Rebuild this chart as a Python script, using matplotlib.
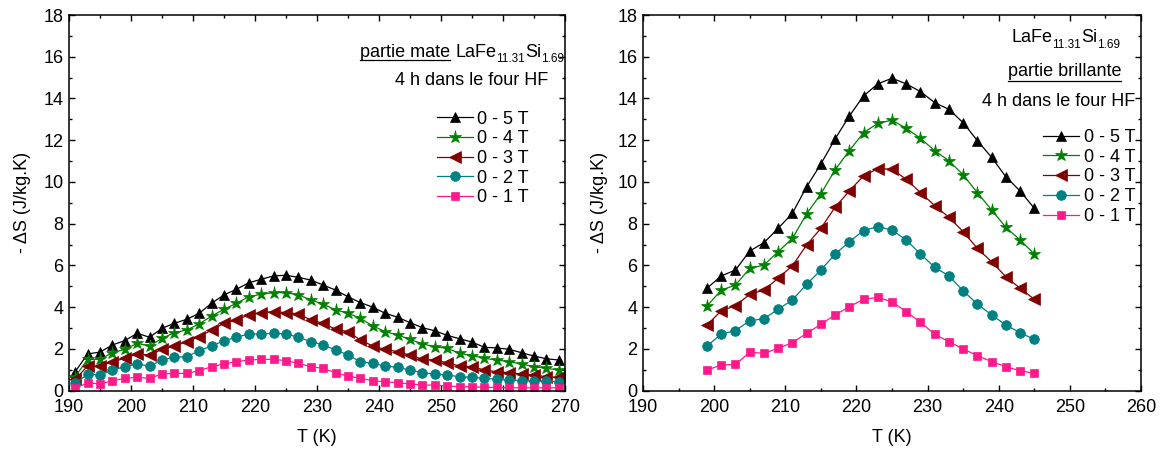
import matplotlib
matplotlib.use("Agg")
import matplotlib.pyplot as plt
from matplotlib.lines import Line2D
from matplotlib.ticker import MultipleLocator

plt.rcParams['font.family'] = ['Liberation Sans', 'DejaVu Sans']

# ---------------- data ----------------
T_mate = list(range(191, 270, 2))
mate_5T = [0.91, 1.76, 1.85, 2.19, 2.40, 2.75, 2.56, 2.99, 3.23, 3.42, 3.71, 4.19, 4.59, 4.86,
           5.17, 5.34, 5.50, 5.53, 5.43, 5.30, 5.06, 4.82, 4.50, 4.22, 4.00, 3.71, 3.52, 3.26,
           3.02, 2.87, 2.65, 2.49, 2.33, 2.08, 2.05, 1.98, 1.82, 1.66, 1.53, 1.47]
mate_4T = [0.67, 1.50, 1.50, 1.82, 1.98, 2.27, 2.14, 2.51, 2.78, 2.91, 3.20, 3.58, 3.90, 4.19,
           4.50, 4.62, 4.70, 4.70, 4.59, 4.35, 4.15, 3.87, 3.71, 3.47, 3.10, 2.83, 2.67, 2.46,
           2.24, 2.11, 2.03, 1.79, 1.68, 1.55, 1.47, 1.39, 1.28, 1.15, 1.07, 0.99]
mate_3T = [0.55, 1.18, 1.18, 1.39, 1.55, 1.76, 1.71, 1.98, 2.14, 2.35, 2.59, 2.91, 3.23, 3.39,
           3.63, 3.74, 3.79, 3.74, 3.68, 3.39, 3.23, 2.94, 2.83, 2.43, 2.14, 1.98, 1.87, 1.71,
           1.50, 1.47, 1.34, 1.18, 1.15, 0.99, 0.91, 0.86, 0.80, 0.75, 0.67, 0.64]
mate_2T = [0.35, 0.79, 0.75, 0.99, 1.15, 1.28, 1.18, 1.47, 1.60, 1.63, 1.92, 2.14, 2.40, 2.56,
           2.72, 2.72, 2.75, 2.72, 2.56, 2.35, 2.19, 1.95, 1.71, 1.39, 1.31, 1.18, 1.12, 0.99,
           0.86, 0.80, 0.75, 0.67, 0.64, 0.59, 0.55, 0.51, 0.48, 0.46, 0.45, 0.43]
mate_1T = [0.11, 0.38, 0.32, 0.48, 0.59, 0.64, 0.59, 0.80, 0.83, 0.83, 0.96, 1.15, 1.28, 1.39,
           1.47, 1.50, 1.50, 1.44, 1.31, 1.15, 1.07, 0.86, 0.70, 0.59, 0.48, 0.43, 0.38, 0.32,
           0.27, 0.27, 0.23, 0.19, 0.19, 0.16, 0.16, 0.14, 0.14, 0.14, 0.14, 0.14]

T_brill = list(range(199, 246, 2))
brill_5T = [4.91, 5.50, 5.78, 6.69, 7.09, 7.78, 8.50, 9.77, 10.86, 12.06, 13.16, 14.12,
            14.70, 14.97, 14.70, 14.33, 13.80, 13.48, 12.84, 11.98, 11.18, 10.25, 9.57, 8.74]
brill_4T = [4.06, 4.82, 5.06, 5.86, 6.02, 6.66, 7.30, 8.47, 9.43, 10.58, 11.50, 12.36,
            12.81, 12.96, 12.57, 12.09, 11.50, 11.02, 10.34, 9.49, 8.66, 7.83, 7.22, 6.55]
brill_3T = [3.15, 3.83, 4.07, 4.62, 4.82, 5.39, 5.99, 6.98, 7.78, 8.79, 9.57, 10.29,
            10.64, 10.61, 10.13, 9.49, 8.87, 8.31, 7.62, 6.82, 6.18, 5.46, 4.91, 4.38]
brill_2T = [2.14, 2.72, 2.88, 3.35, 3.45, 3.90, 4.35, 5.10, 5.78, 6.54, 7.14, 7.67,
            7.86, 7.70, 7.22, 6.55, 5.91, 5.50, 4.79, 4.15, 3.63, 3.15, 2.78, 2.46]
brill_1T = [0.99, 1.23, 1.26, 1.84, 1.79, 2.03, 2.30, 2.75, 3.18, 3.63, 4.02, 4.38,
            4.47, 4.26, 3.79, 3.28, 2.70, 2.35, 2.00, 1.68, 1.39, 1.15, 0.96, 0.83]

labels = ['0 - 5 T', '0 - 4 T', '0 - 3 T', '0 - 2 T', '0 - 1 T']
colors = ['black', '#008000', '#800000', '#008080', '#FF1A8C']
markers = ['^', '*', '<', 'o', 's']
msizes = [7.5, 9.5, 8, 7, 6]

W, H = 1163, 450
fig = plt.figure(figsize=(W / 100, H / 100), dpi=100)


def fx(x):
    return x / W


def fy(y):
    return 1 - y / H


axL = fig.add_axes([fx(69), fy(390.7), fx(565) - fx(69), fy(15) - fy(390.7)])
axR = fig.add_axes([fx(643), fy(390.7), fx(1141) - fx(643), fy(15) - fy(390.7)])

FS = 13
SUB = 8.5

for ax, T, series, xmax in [
    (axL, T_mate, [mate_5T, mate_4T, mate_3T, mate_2T, mate_1T], 270),
    (axR, T_brill, [brill_5T, brill_4T, brill_3T, brill_2T, brill_1T], 260),
]:
    for s, lab, c, m, ms in zip(series, labels, colors, markers, msizes):
        ax.plot(T, s, color=c, marker=m, markersize=ms, linewidth=0.9,
                markeredgewidth=0.5, label=lab)
    ax.set_xlim(190, xmax)
    ax.set_ylim(0, 18)
    ax.xaxis.set_major_locator(MultipleLocator(10))
    ax.xaxis.set_minor_locator(MultipleLocator(5))
    ax.yaxis.set_major_locator(MultipleLocator(2))
    ax.yaxis.set_minor_locator(MultipleLocator(1))
    ax.tick_params(which='both', direction='in', top=True, right=True,
                   labelsize=FS, width=1.0)
    ax.tick_params(axis='x', which='major', pad=6)
    ax.tick_params(axis='y', which='major', pad=4)
    ax.tick_params(which='major', length=4)
    ax.tick_params(which='minor', length=2.5)
    for sp in ax.spines.values():
        sp.set_linewidth(1.1)
    ax.set_xlabel('T (K)', fontsize=FS)
    ax.set_ylabel('- ΔS (J/kg.K)', fontsize=FS)

axL.xaxis.set_label_coords(0.5, (390.7 - 429) / 375.7)
axR.xaxis.set_label_coords(0.5, (390.7 - 429) / 375.7)
axL.yaxis.set_label_coords((31 - 69) / 496, 0.5)
axR.yaxis.set_label_coords((608 - 643) / 498, 0.5)

# legends
for ax, x0, ytop in [(axL, 436.5, 110.5), (axR, 1043, 129)]:
    ax.legend(loc='upper left', bbox_to_anchor=(fx(x0), fy(ytop)),
              bbox_transform=fig.transFigure, frameon=False, fontsize=FS,
              handlelength=2.0, handletextpad=0.25, labelspacing=0.15,
              borderpad=0, borderaxespad=0, numpoints=1)

fig.canvas.draw()
r = fig.canvas.get_renderer()


def rich_text(x_right, y_base, pieces):
    """pieces: list of (string, fontsize, drop_px); right-aligned at x_right."""
    arts = []
    widths = []
    for s, size, drop in pieces:
        t = fig.text(0, 0, s, fontsize=size, ha='left', va='baseline')
        arts.append((t, drop))
        widths.append(t.get_window_extent(r).width)
    x = x_right - sum(widths)
    for (t, drop), w in zip(arts, widths):
        t.set_position((x / W, fy(y_base + drop)))
        x += w
    return arts, x_right - sum(widths)


formula = [('LaFe', FS, 0), ('11.31', SUB, 5), ('Si', FS, 0), ('1.69', SUB, 5)]

# left annotation
_, xstart = rich_text(564, 57, formula)
t2 = fig.text((xstart - 5) / W, fy(57), 'partie mate', fontsize=FS,
              ha='right', va='baseline')
fig.text(fx(548), fy(85), '4 h dans le four HF', fontsize=FS, ha='right', va='baseline')

# right annotation
rich_text(1120, 42.5, formula)
t3 = fig.text(fx(1121), fy(76), 'partie brillante', fontsize=FS, ha='right', va='baseline')
fig.text(fx(1135), fy(106), '4 h dans le four HF', fontsize=FS, ha='right', va='baseline')

fig.canvas.draw()
for t, yline in [(t2, 59.5), (t3, 80.5)]:
    bb = t.get_window_extent(r)
    fig.add_artist(Line2D([bb.x0 / W, bb.x1 / W], [fy(yline), fy(yline)],
                          transform=fig.transFigure, color='black', linewidth=0.9))

fig.savefig('out.png', dpi=100)
